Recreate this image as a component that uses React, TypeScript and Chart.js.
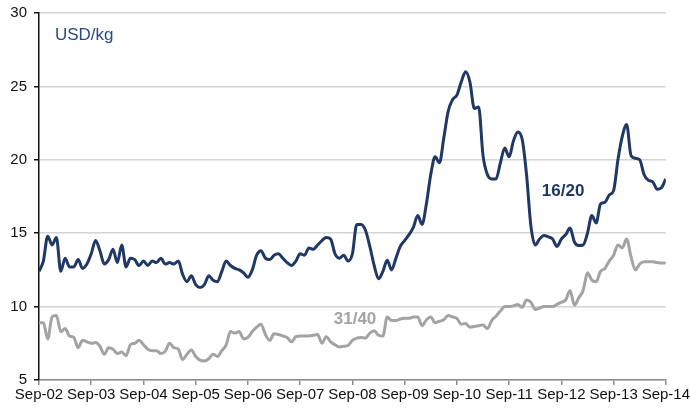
import React, { useEffect, useRef } from "react";
import { Chart, registerables } from "chart.js";

Chart.register(...registerables);

const yearLabels = ["Sep-02", "Sep-03", "Sep-04", "Sep-05", "Sep-06", "Sep-07", "Sep-08", "Sep-09", "Sep-10", "Sep-11", "Sep-12", "Sep-13", "Sep-14"];

// Monthly prices, Sep-02 .. Sep-14 (145 months)
const series1620 = [
  12.4, 13.1, 14.8, 14.2, 14.7, 12.4, 13.3, 12.7, 12.7, 13.2, 12.6, 12.9,
  13.6, 14.5, 13.8, 12.9, 13.2, 13.9, 13.0, 14.2, 12.7, 13.3, 13.2, 12.8,
  13.1, 12.8, 13.1, 13.0, 13.3, 12.9, 13.0, 12.9, 13.1, 12.2, 11.7, 12.1,
  11.5, 11.3, 11.5, 12.1, 11.8, 11.7, 12.4, 13.1, 12.8, 12.6, 12.5, 12.3,
  12.0, 12.5, 13.5, 13.8, 13.3, 13.2, 13.5, 13.6, 13.3, 13.0, 12.8, 13.1,
  13.6, 13.5, 14.0, 13.9, 14.2, 14.5, 14.7, 14.6, 13.6, 13.3, 13.5, 13.1,
  13.6, 15.6, 15.6, 15.2, 14.1, 12.8, 11.9, 12.4, 13.15, 12.5, 13.3, 14.1,
  14.5, 14.9, 15.4, 16.2, 15.6, 17.0, 19.0, 20.2, 19.8, 21.5, 23.3, 24.1,
  24.4, 25.3, 26.0, 25.3, 23.5, 23.6, 20.3, 19.0, 18.7, 18.7, 19.8, 20.8,
  20.2, 21.3, 21.9, 21.4, 19.0, 15.5, 14.2, 14.6, 14.85, 14.75, 14.6, 14.1,
  14.6, 14.9, 15.35, 14.4, 14.17, 14.2, 15.0, 16.2, 15.7, 17.0, 17.1, 17.6,
  17.9, 20.0, 21.6, 22.4, 20.3, 20.1, 20.0, 19.0, 18.6, 18.5, 18.0, 18.1,
  18.7,
];

const series3140 = [
  8.9, 8.9, 7.8, 9.3, 9.4, 8.3, 8.5, 8.0, 7.9, 7.2, 7.7, 7.6,
  7.5, 7.55, 7.3, 6.75, 7.2, 7.1, 6.8, 6.9, 6.65, 7.4, 7.5, 7.7,
  7.4, 7.1, 7.0, 7.0, 6.8, 6.95, 7.5, 7.2, 7.1, 6.4, 6.75, 7.05,
  6.6, 6.35, 6.3, 6.45, 6.75, 6.6, 7.0, 7.4, 8.3, 8.2, 8.3, 7.8,
  7.9, 8.3, 8.6, 8.8, 8.1, 7.7, 8.15, 8.1, 8.0, 7.9, 7.6, 7.95,
  8.0, 8.0, 8.0, 8.05, 8.1, 7.5, 7.95, 7.6, 7.4, 7.25, 7.3, 7.35,
  7.7, 7.85, 7.9, 7.85, 8.2, 8.35, 8.05, 8.0, 9.3, 9.05, 9.05, 9.15,
  9.2, 9.2, 9.3, 9.3, 8.7, 9.1, 9.3, 8.9, 9.0, 9.1, 9.4, 9.3,
  9.2, 8.8, 8.85, 8.6, 8.65, 8.7, 8.75, 8.5, 9.05, 9.35, 9.7, 10.0,
  10.0, 10.05, 10.15, 9.95, 10.45, 10.3, 9.8, 9.9, 10.0, 10.0, 10.0, 10.15,
  10.3, 10.45, 11.1, 10.1, 10.6, 11.1, 12.3, 11.8, 11.7, 12.4, 12.6, 13.1,
  13.5, 14.2, 14.0, 14.6, 13.4, 12.5, 12.9, 13.05, 13.05, 13.05, 13.0, 12.97,
  12.97,
];

const yTicks = [5, 10, 15, 20, 25, 30];

const NAVY = "#1f3864";
const GRAY = "#a3a3a3";
const FONT = "'Liberation Sans', Arial, sans-serif";

const annotations = [
  { text: "USD/kg", x: 3.66, y: 28.45, color: "#2b4a80", bold: false, align: "left" as CanvasTextAlign },
  { text: "16/20", x: 120.4, y: 17.85, color: NAVY, bold: true, align: "center" as CanvasTextAlign },
  { text: "31/40", x: 72.6, y: 9.1, color: GRAY, bold: true, align: "center" as CanvasTextAlign },
];

const labelPlugin = {
  id: "labels",
  afterDatasetsDraw(chart: any) {
    const ctx = chart.ctx;
    const xs = chart.scales.x;
    const ys = chart.scales.y;
    ctx.save();
    annotations.forEach((a) => {
      ctx.font = `${a.bold ? "bold " : ""}17px ${FONT}`;
      ctx.fillStyle = a.color;
      ctx.textAlign = a.align;
      ctx.textBaseline = "middle";
      ctx.fillText(a.text, xs.getPixelForValue(a.x), ys.getPixelForValue(a.y));
    });
    ctx.restore();
  },
};

export default function App() {
  const ref = useRef<HTMLCanvasElement | null>(null);
  useEffect(() => {
    if (!ref.current) return;
    const toPts = (arr: number[]) => arr.map((v, i) => ({ x: i, y: v }));
    const chart = new Chart(ref.current, {
      type: "line",
      data: {
        datasets: [
          {
            label: "31/40",
            data: toPts(series3140),
            borderColor: GRAY,
            borderWidth: 3,
            pointRadius: 0,
            tension: 0.4,
            cubicInterpolationMode: "monotone",
          },
          {
            label: "16/20",
            data: toPts(series1620),
            borderColor: NAVY,
            borderWidth: 3,
            pointRadius: 0,
            tension: 0.4,
            cubicInterpolationMode: "monotone",
          },
        ],
      },
      options: {
        animation: false,
        responsive: false,
        maintainAspectRatio: false,
        layout: { padding: { top: 9, right: 20, left: 0, bottom: 0 } },
        plugins: { legend: { display: false }, tooltip: { enabled: false } },
        scales: {
          x: {
            type: "linear",
            min: 0,
            max: 144,
            afterBuildTicks: (s: any) => {
              s.ticks = yearLabels.map((_, k) => ({ value: k * 12 }));
            },
            ticks: {
              autoSkip: false,
              maxRotation: 0,
              padding: 1,
              color: "#111",
              font: { family: FONT, size: 15 },
              callback: (v: any) => yearLabels[Math.round(Number(v) / 12)] ?? "",
            },
            grid: { drawOnChartArea: false, drawTicks: true, tickLength: 5, tickColor: "#8c8c8c", lineWidth: 1.5 },
            border: { color: "#8c8c8c", width: 1.5 },
            afterFit: (s: any) => {
              s.height = 29;
            },
          },
          y: {
            min: 5,
            max: 30,
            afterBuildTicks: (s: any) => {
              s.ticks = yTicks.map((v) => ({ value: v }));
            },
            ticks: {
              padding: 7,
              color: "#111",
              font: { family: FONT, size: 15 },
            },
            grid: { color: "#d4d4d4", lineWidth: 1.5, drawTicks: true, tickLength: 5, tickColor: "#111" },
            border: { color: "#111", width: 1.5 },
            afterFit: (s: any) => {
              s.width = 39;
            },
          },
        },
      },
      plugins: [labelPlugin],
    } as any);
    return () => chart.destroy();
  }, []);
  return (
    <div style={{ position: "fixed", left: 0, top: 0, width: 691, height: 409, background: "#fff", overflow: "hidden" }}>
      <canvas ref={ref} width={691} height={412} style={{ position: "absolute", left: 0, top: -3, width: 691, height: 412, display: "block" }} />
    </div>
  );
}
